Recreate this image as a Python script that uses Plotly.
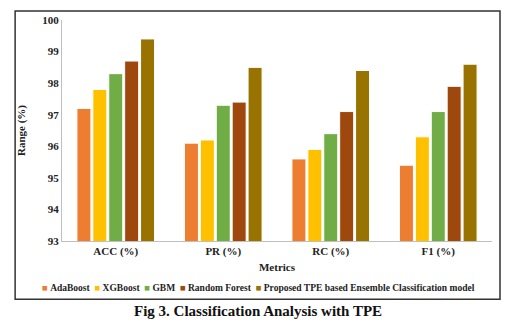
import plotly.graph_objects as go

metrics = ["ACC (%)", "PR (%)", "RC (%)", "F1 (%)"]
models = ["AdaBoost", "XGBoost", "GBM", "Random Forest",
          "Proposed TPE based Ensemble Classification model"]
adaboost = [97.2, 96.1, 95.6, 95.4]
xgboost = [97.8, 96.2, 95.9, 96.3]
gbm = [98.3, 97.3, 96.4, 97.1]
random_forest = [98.7, 97.4, 97.1, 97.9]
proposed = [99.4, 98.5, 98.4, 98.6]
series = [adaboost, xgboost, gbm, random_forest, proposed]
colors = ["#ED7D31", "#FFC000", "#70AD47", "#9E480E", "#997300"]
y_ticks = [93, 94, 95, 96, 97, 98, 99, 100]

FONT = "Liberation Serif"

fig = go.Figure()
for name, vals, col in zip(models, series, colors):
    fig.add_trace(go.Bar(
        x=metrics, y=vals, name=name,
        marker=dict(color=col, line=dict(color="white", width=1)),
    ))

# compact single-row key: coloured squares followed by series names
key_text = "  ".join(
    f"<span style='color:{c}'>■</span> <b>{n}</b>" for n, c in zip(models, colors)
)

fig.update_layout(
    width=510, height=329,
    margin=dict(l=62, r=18, t=20, b=87.5, autoexpand=False),
    paper_bgcolor="white", plot_bgcolor="white",
    barmode="group", bargap=0.26, bargroupgap=0.12,
    font=dict(family=FONT, size=11, color="#222"),
    showlegend=False,
    xaxis=dict(
        showline=True, linecolor="#BFBFBF", linewidth=1,
        ticks="", tickfont=dict(family=FONT, size=11, color="#222"),
        title=dict(text="<b>Metrics</b>", font=dict(family=FONT, size=11), standoff=6),
        tickprefix="<b>", ticksuffix="</b>",
    ),
    yaxis=dict(
        range=[93, 100], tickvals=y_ticks,
        ticktext=[f"<b>{v}</b>" for v in y_ticks],
        showline=True, linecolor="#BFBFBF", linewidth=1,
        showgrid=False, zeroline=False, ticks="",
        tickfont=dict(family=FONT, size=11, color="#222"),
        title=dict(text="<b>Range (%)</b>", font=dict(family=FONT, size=11), standoff=14),
    ),
    shapes=[dict(
        type="rect", xref="paper", yref="paper",
        x0=-0.109, x1=1.0186, y0=-0.264, y1=1.0406,
        line=dict(color="#333", width=1.5), fillcolor="rgba(0,0,0,0)",
    )],
    annotations=[
        dict(
            text=key_text, xref="paper", yref="paper",
            x=0.458, y=-0.2145, xanchor="center", yanchor="middle",
            showarrow=False, font=dict(family=FONT, size=9.5, color="#222"),
        ),
        dict(
            text="<b>Fig 3. Classification Analysis with TPE</b>",
            xref="paper", yref="paper", x=0.455, y=-0.318,
            xanchor="center", yanchor="middle",
            showarrow=False, font=dict(family=FONT, size=15, color="#111"),
        ),
    ],
)

fig.write_html("out.html")
